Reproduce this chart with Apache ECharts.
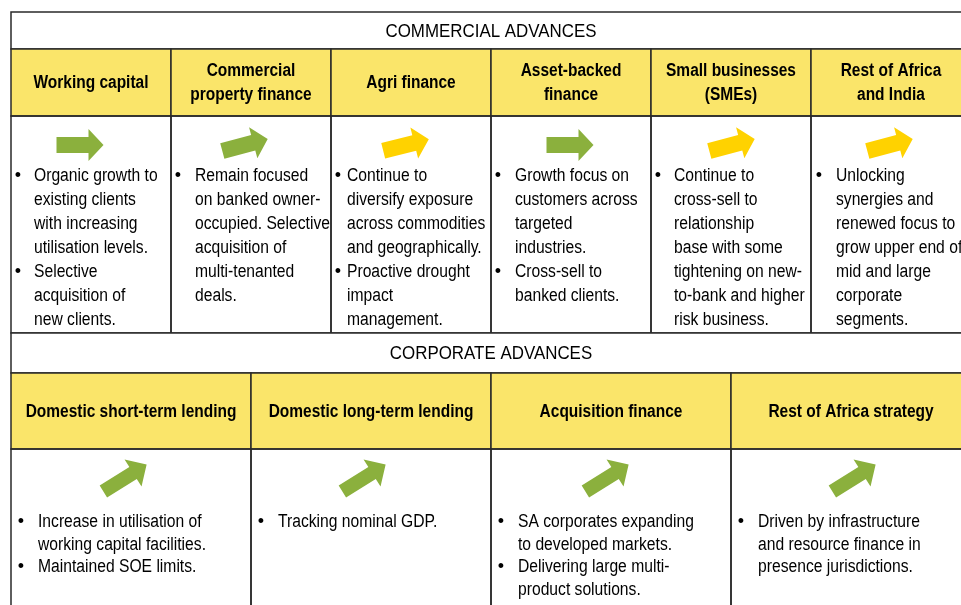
<!DOCTYPE html>
<html><head><meta charset="utf-8">
<script src="https://cdn.jsdelivr.net/npm/echarts@6/dist/echarts.min.js"></script>
<style>html,body{margin:0;padding:0;background:#fff}#c{width:961px;height:605px}</style>
</head><body><div id="c"></div>
<script>
// ---------- DATA ----------
const commercialTitle = 'COMMERCIAL ADVANCES';
const commercialCategories = ['Working capital', 'Commercial\nproperty finance', 'Agri finance', 'Asset-backed\nfinance', 'Small businesses\n(SMEs)', 'Rest of Africa\nand India'];
const commercialArrowColor = ['green', 'green', 'yellow', 'green', 'yellow', 'yellow'];
const commercialArrowAngle = [0, 15, 14, 0, 15, 15];
const commercialBullets = [
  [['Organic growth to', 'existing clients', 'with increasing', 'utilisation levels.'], ['Selective', 'acquisition of', 'new clients.']],
  [['Remain focused', 'on banked owner-', 'occupied. Selective', 'acquisition of', 'multi-tenanted', 'deals.']],
  [['Continue to', 'diversify exposure', 'across commodities', 'and geographically.'], ['Proactive drought', 'impact', 'management.']],
  [['Growth focus on', 'customers across', 'targeted', 'industries.'], ['Cross-sell to', 'banked clients.']],
  [['Continue to', 'cross-sell to', 'relationship', 'base with some', 'tightening on new-', 'to-bank and higher', 'risk business.']],
  [['Unlocking', 'synergies and', 'renewed focus to', 'grow upper end of', 'mid and large', 'corporate', 'segments.']]
];

const corporateTitle = 'CORPORATE ADVANCES';
const corporateCategories = ['Domestic short-term lending', 'Domestic long-term lending', 'Acquisition finance', 'Rest of Africa strategy'];
const corporateArrowColor = ['green', 'green', 'green', 'green'];
const corporateArrowAngle = [32, 32, 32, 32];
const corporateBullets = [
  [['Increase in utilisation of', 'working capital facilities.'], ['Maintained SOE limits.']],
  [['Tracking nominal GDP.']],
  [['SA corporates expanding', 'to developed markets.'], ['Delivering large multi-', 'product solutions.']],
  [['Driven by infrastructure', 'and resource finance in', 'presence jurisdictions.']]
];

// ---------- STYLE / LAYOUT ----------
const FONT = '"Liberation Sans",Arial,sans-serif';
const NARROW = 0.87;          // horizontal condensing of the sans face
const COLORS = { green: '#8BB03D', yellow: '#FFD200', header: '#FAE56A', line: '#2a2a2a', text: '#000000' };

const sections = [
  { title: commercialTitle, cats: commercialCategories, colors: commercialArrowColor, angles: commercialArrowAngle, bullets: commercialBullets,
    top: 12, titleH: 37, headerH: 67, bodyH: 217, arrowDy: 29, textDy: 60, lineH: 24, headLineH: 24,
    bulletDx: [7, 7, 7, 7, 7, 8], textDx: [23, 24, 16, 24, 23, 25], arrowDx: [-11, -6, -5, -1, 1, -1],
    arrow: { len: 47, shaft: 16, head: 32, headLen: 15 } },
  { title: corporateTitle, cats: corporateCategories, colors: corporateArrowColor, angles: corporateArrowAngle, bullets: corporateBullets,
    top: 333, titleH: 40, headerH: 76, bodyH: 200, arrowDy: 29, textDy: 73, lineH: 22.7, headLineH: 24,
    bulletDx: [10, 10, 10, 10], textDx: [27, 27, 27, 27], arrowDx: [-6, -7, -4, 3],
    arrow: { len: 51, shaft: 14, head: 32, headLen: 16 } }
];

function arrowPoints(a) {
  const L = a.len / 2, s = a.shaft / 2, h = a.head / 2, b = L - a.headLen;
  return [[-L, -s], [b, -s], [b, -h], [L, 0], [b, h], [b, s], [-L, s]];
}

function txt(str, x, y, font, align, vAlign, lineH, scale) {
  const st = { text: str, x: 0, y: 0, font: font, fill: COLORS.text,
    align: align, verticalAlign: vAlign, textAlign: align, textVerticalAlign: vAlign };
  if (lineH) st.lineHeight = lineH;
  return { type: 'group', x: x, y: y, scaleX: scale, scaleY: 1, children: [{ type: 'text', style: st }] };
}

function makeRender(s) {
  return function (params, api) {
    const i = api.value(0);
    const c = api.coord([i, 0]);
    const w = api.size([1, 0])[0];
    const cs = params.coordSys;
    const x0 = c[0] - w / 2;
    const yH = s.top + s.titleH;
    const yB = yH + s.headerH;
    const children = [];
    if (i === 0) {
      children.push({ type: 'rect', shape: { x: cs.x, y: s.top, width: cs.width, height: s.titleH },
        style: { fill: '#fff', stroke: COLORS.line, lineWidth: 1.5 } });
      children.push(txt(s.title, cs.x + cs.width / 2, s.top + s.titleH / 2 + 1, 'normal 19px ' + FONT, 'center', 'middle', 0, 0.89));
    }
    // header cell
    children.push({ type: 'rect', shape: { x: x0, y: yH, width: w, height: s.headerH },
      style: { fill: COLORS.header, stroke: COLORS.line, lineWidth: 1.5 } });
    children.push(txt(s.cats[i], c[0], yH + s.headerH / 2 + 1, 'bold 18px ' + FONT, 'center', 'middle', s.headLineH, 0.86));
    // body cell
    children.push({ type: 'rect', shape: { x: x0, y: yB, width: w, height: s.bodyH },
      style: { fill: 'none', stroke: COLORS.line, lineWidth: 1.5 } });
    // arrow
    children.push({ type: 'group', x: c[0] + s.arrowDx[i], y: yB + s.arrowDy, rotation: s.angles[i] * Math.PI / 180,
      children: [{ type: 'polygon', shape: { points: arrowPoints(s.arrow) },
        style: { fill: COLORS[s.colors[i]] } }] });
    // bullets
    let yy = yB + s.textDy - s.lineH / 2;
    s.bullets[i].forEach(function (lines) {
      children.push(txt('\u2022', x0 + s.bulletDx[i], yy, 'normal 18px ' + FONT, 'center', 'top', s.lineH, 1));
      children.push(txt(lines.join('\n'), x0 + s.textDx[i], yy, 'normal 18px ' + FONT, 'left', 'top', s.lineH, NARROW));
      yy += lines.length * s.lineH;
    });
    return { type: 'group', children: children };
  };
}

const chart = echarts.init(document.getElementById('c'), null, { renderer: 'canvas' });
const option = {
  animation: false,
  backgroundColor: '#ffffff',
  grid: sections.map(function (s) {
    return { left: 11, width: 960, top: s.top, height: s.titleH + s.headerH + s.bodyH, outerBoundsMode: 'none' };
  }),
  xAxis: sections.map(function (s, k) {
    return { type: 'category', gridIndex: k, data: s.cats, boundaryGap: true, show: false };
  }),
  yAxis: sections.map(function (s, k) {
    return { type: 'value', gridIndex: k, min: 0, max: 1, show: false };
  }),
  series: sections.map(function (s, k) {
    return { type: 'custom', xAxisIndex: k, yAxisIndex: k, clip: false, silent: true,
      data: s.cats.map(function (_, i) { return [i, 0]; }),
      encode: { x: 0, y: 1 },
      renderItem: makeRender(s) };
  })
};
chart.setOption(option);
</script>
</body></html>
